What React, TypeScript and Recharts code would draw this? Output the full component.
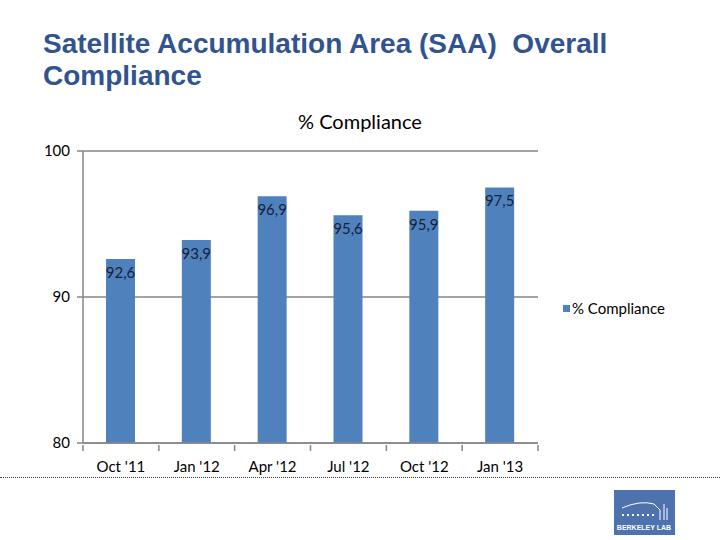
import React from 'react';
import { BarChart, Bar, XAxis, YAxis, CartesianGrid, LabelList } from 'recharts';

const quarters = ["Oct '11", "Jan '12", "Apr '12", "Jul '12", "Oct '12", "Jan '13"];
const compliance = [92.6, 93.9, 96.9, 95.6, 95.9, 97.5];
const yTicks = [80, 90, 100];

const data = quarters.map((q, i) => ({ quarter: q, value: compliance[i] }));

const PLOT_LEFT = 83;
const PLOT_RIGHT = 538;
const BAND = (PLOT_RIGHT - PLOT_LEFT) / quarters.length;
const AXIS = '#868686';
const FONT = 'Lato, "Open Sans", sans-serif';

// excel puts the category ticks between the bars, not under them
const QuarterTick = (props: any) => {
  const { x, y, payload, index } = props;
  const left = x - BAND / 2;
  return (
    <g>
      <line x1={left} y1={y - 6} x2={left} y2={y} stroke={AXIS} strokeWidth={1.5} />
      {index === quarters.length - 1 && (
        <line x1={left + BAND} y1={y - 6} x2={left + BAND} y2={y} stroke={AXIS} strokeWidth={1.5} />
      )}
      <text x={x} y={y + 21} textAnchor="middle" fontSize={15} fill="#000" fontFamily={FONT}>
        {payload.value}
      </text>
    </g>
  );
};

const fmt = (v: any) => String(v).replace('.', ',');

export default function App() {
  return (
    <div style={{ position: 'absolute', left: 0, top: 0, width: 720, height: 540, background: '#fff', overflow: 'hidden' }}>
      <div
        style={{
          position: 'absolute',
          left: 43,
          top: 28,
          fontFamily: '"Liberation Sans", Arial, sans-serif',
          fontWeight: 'bold',
          fontSize: 28,
          lineHeight: '32px',
          color: '#31538F',
          whiteSpace: 'pre',
        }}
      >
        {'Satellite Accumulation Area (SAA)  Overall\nCompliance'}
      </div>

      <div
        style={{
          position: 'absolute',
          left: 0,
          width: 720,
          top: 109,
          textAlign: 'center',
          fontFamily: FONT,
          fontSize: 20,
          color: '#000',
        }}
      >
        % Compliance
      </div>

      <div style={{ position: 'absolute', left: 0, top: 0 }}>
        <BarChart
          width={720}
          height={540}
          data={data}
          margin={{ top: 151, right: 720 - PLOT_RIGHT, bottom: 67, left: PLOT_LEFT - 40 }}
        >
          <CartesianGrid vertical={false} stroke={AXIS} strokeWidth={1.5} />
          <XAxis
            dataKey="quarter"
            height={30}
            axisLine={{ stroke: AXIS, strokeWidth: 1.5 }}
            tickLine={false}
            tick={<QuarterTick />}
            interval={0}
          />
          <YAxis
            width={40}
            domain={[80, 100]}
            ticks={yTicks}
            allowDataOverflow
            axisLine={{ stroke: AXIS, strokeWidth: 1.5 }}
            tickLine={{ stroke: AXIS, strokeWidth: 1.5 }}
            tickSize={6}
            tickMargin={7}
            tick={{ fontSize: 15, fill: '#000', fontFamily: FONT }}
          />
          <Bar dataKey="value" fill="#4F81BD" barSize={29} isAnimationActive={false}>
            <LabelList
              dataKey="value"
              position="insideTop"
              offset={8}
              formatter={fmt}
              fill="#15213a"
              fontSize={15}
              fontFamily={FONT}
            />
          </Bar>
        </BarChart>
      </div>

      <div style={{ position: 'absolute', left: 563, top: 299, display: 'flex', alignItems: 'center', fontFamily: FONT, fontSize: 15, color: '#000' }}>
        <span style={{ display: 'inline-block', width: 7, height: 7, background: '#4F81BD', marginRight: 2 }} />
        <span>% Compliance</span>
      </div>

      <div style={{ position: 'absolute', left: 0, top: 477, width: 720, borderTop: '1px dotted #444' }} />

      <div style={{ position: 'absolute', left: 614, top: 490, width: 61, height: 45, background: '#4E72AE' }}>
        <svg width={61} height={45}>
          <path d="M8 18 Q26 10 40 14 L46 20" stroke="#fff" strokeWidth={1} fill="none" />
          <line x1={46} y1={20} x2={46} y2={30} stroke="#fff" strokeWidth={1} />
          <line x1={50} y1={14} x2={50} y2={30} stroke="#fff" strokeWidth={1} />
          <line x1={53} y1={18} x2={53} y2={30} stroke="#fff" strokeWidth={1} />
          <line x1={8} y1={25} x2={42} y2={25} stroke="#fff" strokeWidth={2} strokeDasharray="2 3" />
          <text x={30} y={40} textAnchor="middle" fontSize={7} fontWeight="bold" fill="#fff" fontFamily="Liberation Sans, Arial, sans-serif">
            BERKELEY LAB
          </text>
        </svg>
      </div>
    </div>
  );
}
